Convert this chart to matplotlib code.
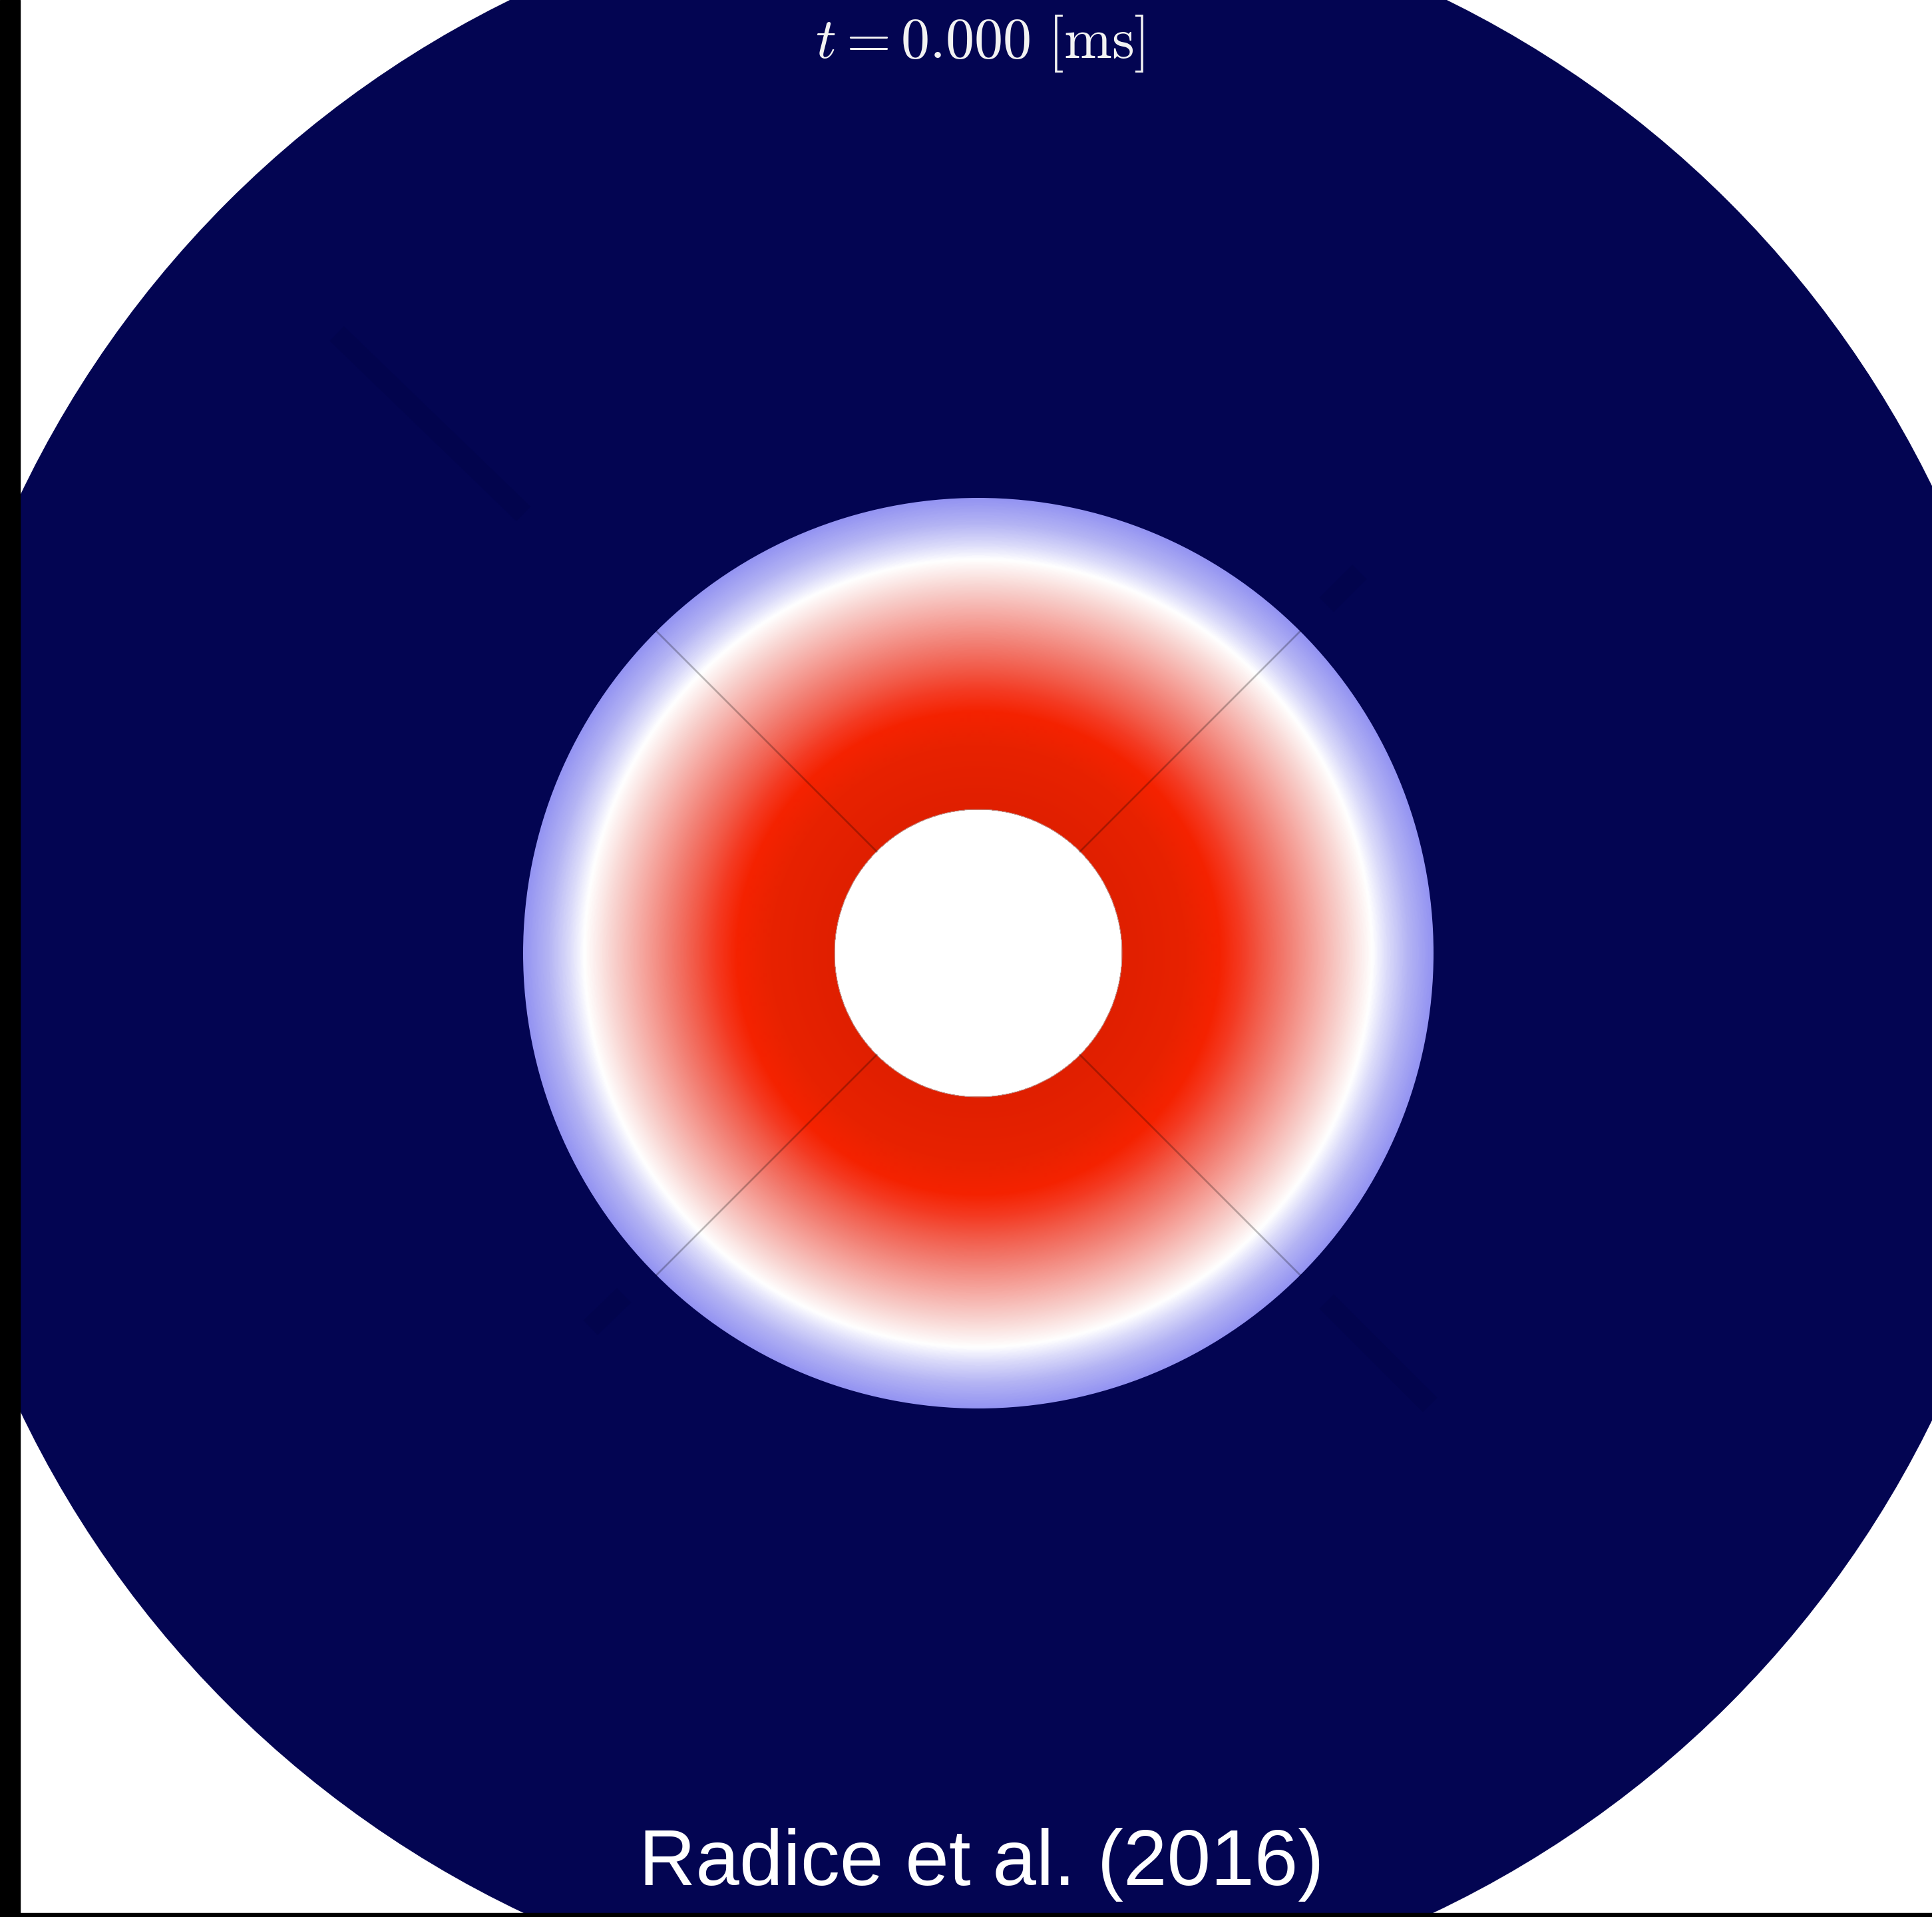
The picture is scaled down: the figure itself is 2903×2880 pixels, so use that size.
import numpy as np
import matplotlib.pyplot as plt
from matplotlib.colors import LinearSegmentedColormap
from matplotlib.patches import Circle, Rectangle

plt.rcParams['mathtext.fontset'] = 'cm'

# geometry, in units of 100 px of the frame, star centred on 0,0
r_domain = 15.95
r_hole = 2.16
r_star = 6.84

# radial colour profile of the star
prof_r = [2.16, 3.13, 3.62, 3.95, 4.27, 4.61, 5.10, 5.48, 5.93, 6.15, 6.47, 6.84]
prof_c = ['#e01f00', '#e82200', '#f52200', '#f43a22', '#f25a48', '#f27a6e',
          '#f6aaa3', '#f8d0cc', '#ffffff', '#dcdcfa', '#b4b4f4', '#9494f2']

# grid seams running through the star
seam_angles = [45, 135, 225, 315]
# faint dark blocks along the seams out in the domain (angle, r from, r to)
block_angles = [136, 45, 224, 315]
block_r0 = [9.5, 7.4, 7.4, 7.4]
block_r1 = [13.4, 8.1, 8.1, 9.6]

navy = '#030552'
title = r'$t = 0.000\ [\mathrm{ms}]$'
credit = 'Radice et al. (2016)'

fig = plt.figure(figsize=(29.03, 28.80), dpi=100, facecolor='white')
ax = fig.add_axes([0, 0, 1, 1])
ax.set_xlim(-14.70, 14.33)
ax.set_ylim(-14.48, 14.32)
ax.axis('off')

# outer domain
disk = Circle((0, 0), r_domain, color=navy, zorder=1)
ax.add_patch(disk)

for a, r0, r1 in zip(block_angles, block_r0, block_r1):
    c, s = np.cos(np.radians(a)), np.sin(np.radians(a))
    ln, = ax.plot([r0 * c, r1 * c], [r0 * s, r1 * s], color='#020448',
                  alpha=0.45, lw=22, solid_capstyle='butt', zorder=1.5)
    ln.set_clip_path(disk)

# star: colour by radius
stops = [(r - r_hole) / (r_star - r_hole) for r in prof_r]
cmap = LinearSegmentedColormap.from_list('star', list(zip(stops, prof_c)))
cmap.set_bad('white')

xs = np.linspace(-7.0, 7.0, 1401)
X, Y = np.meshgrid(xs, xs)
rad = np.ma.masked_less(np.hypot(X, Y), r_hole)
im = ax.imshow(rad, extent=(-7, 7, -7, 7), origin='lower', cmap=cmap,
               vmin=r_hole, vmax=r_star, interpolation='bilinear', zorder=2)
im.set_clip_path(Circle((0, 0), r_star, transform=ax.transData))

# thin grey rim round the hole
ax.add_patch(Circle((0, 0), r_hole, fill=False, ec='#a0a0a0', lw=0.8,
                    alpha=0.6, zorder=2.5))

for a in seam_angles:
    c, s = np.cos(np.radians(a)), np.sin(np.radians(a))
    ax.plot([r_hole * c, r_star * c], [r_hole * s, r_star * s],
            color='k', alpha=0.25, lw=2, zorder=3)

# black frame edges
ax.add_patch(Rectangle((0, 0), 30 / 2903, 1, transform=ax.transAxes,
                       color='black', zorder=5))
ax.add_patch(Rectangle((0, 0), 1, 6 / 2880, transform=ax.transAxes,
                       color='black', zorder=5))

ax.text(0.02, 13.45, title, ha='center', va='baseline', fontsize=62,
        color='#f2f2f2', zorder=6)
ax.text(0.05, -14.00, credit, ha='center', va='baseline', fontsize=85,
        family='Liberation Sans', color='white', zorder=6)

fig.savefig('out.png', dpi=100, facecolor='white')
